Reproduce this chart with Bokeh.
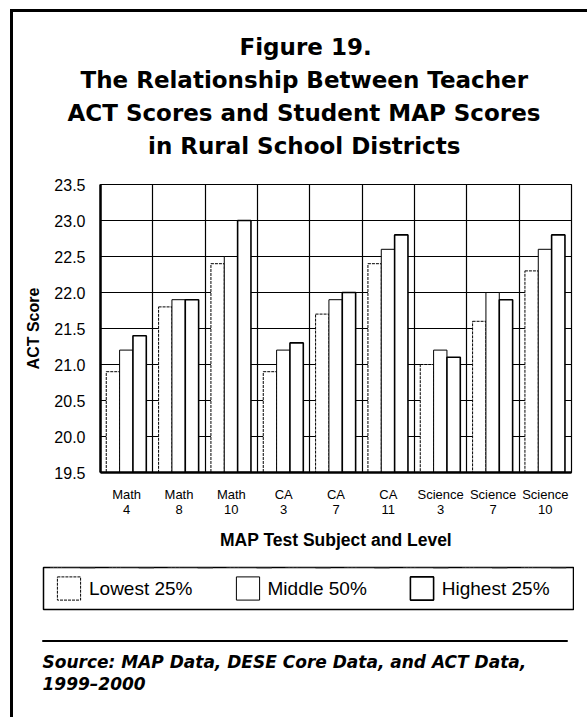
from bokeh.plotting import figure
from bokeh.models import (Range1d, FixedTicker, NumeralTickFormatter, Legend,
                          LegendItem, ColumnDataSource, Title, Spacer)
from bokeh.layouts import row, column
from bokeh.transform import dodge
from bokeh.embed import file_html
from bokeh.resources import INLINE

# ---------------- data ----------------
groups = ["Math\n4", "Math\n8", "Math\n10", "CA\n3", "CA\n7", "CA\n11",
          "Science\n3", "Science\n7", "Science\n10"]
lowest = [20.9, 21.8, 22.4, 20.9, 21.7, 22.4, 21.0, 21.6, 22.3]
middle = [21.2, 21.9, 22.5, 21.2, 21.9, 22.6, 21.2, 22.0, 22.6]
highest = [21.4, 21.9, 23.0, 21.3, 22.0, 22.8, 21.1, 21.9, 22.8]
y_ticks = [19.5, 20.0, 20.5, 21.0, 21.5, 22.0, 22.5, 23.0, 23.5]
series_labels = ["Lowest 25%", "Middle 50%", "Highest 25%"]
title_lines = ["Figure 19.", "The Relationship Between Teacher",
               "ACT Scores and Student MAP Scores", "in Rural School Districts"]
source_lines = ["Source: MAP Data, DESE Core Data, and ACT Data,", "1999\u20132000"]
x_title = "MAP Test Subject and Level"
y_title = "ACT Score"

# ---------------- layout constants (page pixels) ----------------
OX, OY = 13, 12                      # content origin (inside the page frame lines)
CW, CH = 587 - OX, 717 - OY
FL, FR, FT, FB = 100, 571, 184, 472  # plot frame on the page
FONT = "Liberation Sans"
title_offsets = [139, -20, -33, 47.5]  # left offset of each title line from frame left
Y0, Y1, Y2, Y3 = 170, 560, 615, 717    # block boundaries: title | chart | legend | source

BASE = dict(output_backend="svg", toolbar_location=None, title=None)


def blank(fig):
    fig.outline_line_color = None
    fig.xgrid.visible = False
    fig.ygrid.visible = False
    fig.background_fill_color = "white"
    fig.border_fill_color = "white"


# ---------------- title block ----------------
f_title = figure(width=CW, height=Y0 - OY, x_axis_location=None, y_axis_location=None,
                 min_border_left=FL - OX, min_border_right=OX + CW - FR,
                 min_border_top=Y0 - OY - 9, min_border_bottom=0, **BASE)
blank(f_title)
for line, off in zip(reversed(title_lines), reversed(title_offsets)):
    f_title.add_layout(Title(text=line, align="left", offset=off, text_font="DejaVu Sans",
                             text_font_style="bold", text_font_size="23px",
                             text_color="black", standoff=5), "above")

# ---------------- chart ----------------
src = ColumnDataSource(dict(idx=list(range(len(groups))), lowest=lowest,
                            middle=middle, highest=highest))
p = figure(width=CW, height=Y1 - Y0, x_range=Range1d(0, len(groups)),
           y_range=Range1d(y_ticks[0], y_ticks[-1]),
           min_border_left=FL - OX, min_border_right=OX + CW - FR,
           min_border_top=FT - Y0, min_border_bottom=Y1 - FB, **BASE)
p.background_fill_color = "white"
p.border_fill_color = "white"

bw = 0.255
offsets = [0.2375, 0.4925, 0.7475]
columns = ["lowest", "middle", "highest"]
bar_styles = [dict(line_width=1, line_dash="3 1"),
              dict(line_width=1, line_dash="solid"),
              dict(line_width=1.6, line_dash="solid")]
for off, col, st in zip(offsets, columns, bar_styles):
    p.vbar(x=dodge("idx", off), width=bw, top=col, bottom=y_ticks[0], source=src,
           fill_color="white", line_color="black", **st)

p.outline_line_color = "black"
p.outline_line_width = 1.2
p.xgrid.ticker = FixedTicker(ticks=list(range(len(groups) + 1)))
p.xgrid.grid_line_color = "black"
p.xgrid.grid_line_width = 1.2
p.ygrid.grid_line_color = "black"
p.ygrid.grid_line_width = 1.2

ya = p.yaxis[0]
ya.ticker = FixedTicker(ticks=y_ticks)
ya.formatter = NumeralTickFormatter(format="0.0")
ya.axis_label = y_title
ya.axis_label_text_font = FONT
ya.axis_label_text_font_style = "bold"
ya.axis_label_text_font_size = "16px"
ya.axis_label_text_color = "black"
ya.axis_label_standoff = 9
ya.major_label_text_font = FONT
ya.major_label_text_font_size = "16px"
ya.major_label_text_color = "black"
ya.major_label_standoff = 15
ya.major_tick_line_color = None
ya.minor_tick_line_color = None
ya.major_tick_out = 0
ya.major_tick_in = 0
ya.axis_line_width = 2.5
ya.axis_line_color = "black"

xa = p.xaxis[0]
xa.ticker = FixedTicker(ticks=[i + 0.5 for i in range(len(groups))])
xa.major_label_overrides = {i + 0.5: g for i, g in enumerate(groups)}
xa.axis_label = x_title
xa.axis_label_text_font = FONT
xa.axis_label_text_font_style = "bold"
xa.axis_label_text_font_size = "17.5px"
xa.axis_label_text_color = "black"
xa.axis_label_standoff = 10
xa.major_label_text_font = FONT
xa.major_label_text_font_size = "13px"
xa.major_label_text_line_height = 1.0
xa.major_label_text_color = "black"
xa.major_label_standoff = 14
xa.major_tick_line_color = None
xa.minor_tick_line_color = None
xa.major_tick_out = 0
xa.major_tick_in = 0
xa.axis_line_width = 2.5
xa.axis_line_color = "black"

# ---------------- legend block (its frame is the legend box) ----------------
# the same three bar series are drawn here, but outside this panel's y range,
# so only their legend swatches show
LB_L, LB_R, LB_T, LB_B = 43, 573, 567, 609
f_leg = figure(width=LB_R - LB_L + 2, height=Y2 - Y1, x_axis_location=None,
               y_axis_location=None, x_range=Range1d(0, len(groups)),
               y_range=Range1d(0, 1), min_border_left=1, min_border_right=1,
               min_border_top=LB_T - Y1, min_border_bottom=Y2 - LB_B, **BASE)
blank(f_leg)
f_leg.outline_line_color = "black"
f_leg.outline_line_width = 1.5
leg_renderers = [f_leg.vbar(x=dodge("idx", off), width=bw, top=col, bottom=y_ticks[0],
                            source=src, fill_color="white", line_color="black", **st)
                 for off, col, st in zip(offsets, columns, bar_styles)]
legend = Legend(items=[LegendItem(label=lab, renderers=[r])
                       for lab, r in zip(series_labels, leg_renderers)],
                orientation="horizontal", location="left", margin=11,
                padding=4, spacing=40, glyph_width=29, glyph_height=29,
                label_standoff=6, label_text_font=FONT,
                label_text_font_size="19px", label_text_color="black",
                border_line_color=None, background_fill_alpha=0)
f_leg.add_layout(legend, "center")

# ---------------- source block (its frame is the rule) ----------------
RULE_L, RULE_R, RULE_Y = 42, 567, 640
f_src = figure(width=RULE_R - RULE_L + 2, height=Y3 - Y2, x_axis_location=None,
               y_axis_location=None, min_border_left=1, min_border_right=1,
               min_border_top=RULE_Y - Y2, min_border_bottom=Y3 - RULE_Y - 1, **BASE)
blank(f_src)
f_src.outline_line_color = "black"
f_src.outline_line_width = 1
f_src.add_layout(Title(text="\n".join(source_lines), align="left", offset=0,
                       text_font="DejaVu Sans", text_font_style="bold italic",
                       text_font_size="17px", text_line_height=1.11,
                       text_color="black", standoff=18), "below")

# ---------------- page ----------------
top_line = Spacer(width=587 - 10, height=3, styles={"background-color": "black"})
left_line = Spacer(width=3, height=CH, styles={"background-color": "black"})
content = column(f_title, p,
                 row(Spacer(width=LB_L - 1 - OX, height=Y2 - Y1), f_leg, spacing=0),
                 row(Spacer(width=RULE_L - 1 - OX, height=Y3 - Y2), f_src, spacing=0),
                 spacing=0)
layout = column(top_line, row(left_line, content, spacing=0), spacing=0,
                margin=(9, 0, 0, 10))

open("out.html", "w").write(file_html(layout, INLINE))
